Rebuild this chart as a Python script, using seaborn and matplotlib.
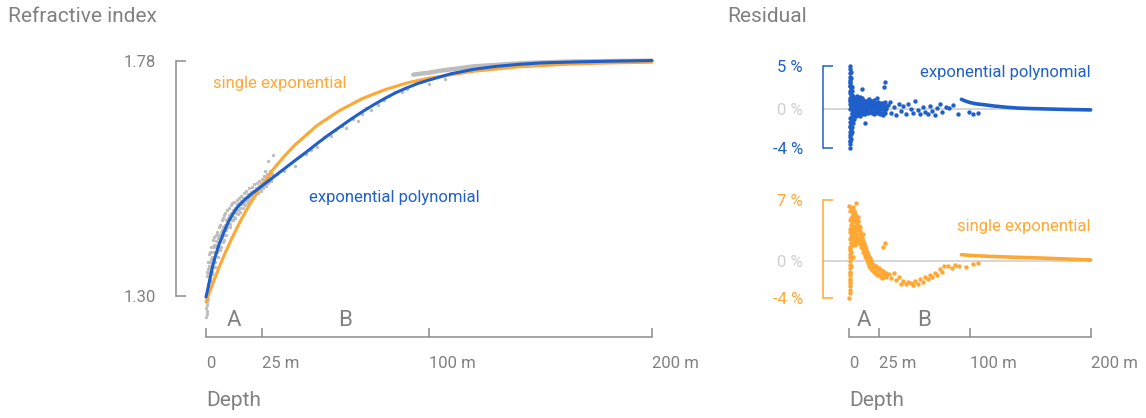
import numpy as np
import pandas as pd
import matplotlib
matplotlib.use("Agg")
import matplotlib.pyplot as plt
import matplotlib.transforms as mtrans
import seaborn as sns

# ---------------- data ----------------
# fitted curves, refractive index vs depth (m)
blue_depth = [0, 1, 2, 3, 4, 5, 6, 8, 10, 12, 14, 17, 20, 24, 28, 32, 36, 40, 45, 50,
              55, 60, 65, 70, 75, 80, 85, 90, 95, 100, 110, 120, 130, 140, 150, 165, 180, 200]
blue_n = [1.298, 1.318, 1.340, 1.361, 1.378, 1.393, 1.407, 1.430, 1.451, 1.467, 1.481, 1.495,
          1.507, 1.521, 1.535, 1.549, 1.563, 1.577, 1.594, 1.612, 1.629, 1.645, 1.661, 1.676,
          1.690, 1.703, 1.715, 1.725, 1.734, 1.741, 1.754, 1.763, 1.769, 1.773, 1.776, 1.778,
          1.7795, 1.781]
orange_depth = [0, 2, 4, 6, 8, 10, 13, 16, 20, 25, 30, 35, 40, 50, 60, 70, 80, 90, 100,
                120, 140, 160, 180, 200]
orange_n = [1.288, 1.313, 1.337, 1.360, 1.382, 1.402, 1.431, 1.458, 1.490, 1.526, 1.558,
            1.585, 1.609, 1.649, 1.679, 1.703, 1.721, 1.735, 1.745, 1.759, 1.768, 1.773,
            1.776, 1.7775]

# measured points (sparse, discrete samples)
gray_depth = [0.2, 0.3, 0.5, 0.2, 0.6, 0.4, 0.8, 0.3, 0.9, 0.5, 1.0, 0.7, 1.2, 0.6, 1.1, 0.8, 1.3,
              1.5, 1.6, 1.8, 1.7, 2.0, 2.2, 2.3, 2.1, 2.6, 2.8, 2.9, 3.0, 3.2, 3.4, 3.5, 3.7,
              3.9, 4.1, 4.3, 4.5, 4.8, 5.0, 5.2,
              5.5, 5.7, 6.0, 6.2, 6.5, 6.8, 7.0, 7.3, 7.6, 7.8, 8.2, 8.5, 8.8, 9.1, 9.4, 9.7, 10.0,
              10.4, 10.8, 11.2, 11.6, 12.0, 12.5, 13.0, 13.4, 13.8, 14.3, 14.8, 15.2, 15.7, 16.2,
              16.7, 17.2, 17.8, 18.3, 18.8, 19.4, 20.0,
              20.6, 21.2, 21.8, 22.4, 23.0, 23.6, 24.2, 24.8, 25.4, 26.0, 26.6, 27.2, 27.8, 28.4,
              29.0, 28.0, 30.0, 26.5, 29.5,
              0.5, 0.9, 1.2, 1.5, 1.9, 2.4, 2.7, 3.1, 3.6, 4.0, 4.4, 4.9, 5.3, 5.8, 6.3, 6.7,
              7.1, 7.5, 7.9, 8.3, 8.7, 9.2, 9.6, 10.2, 10.6, 11.0, 11.5, 12.1, 12.7, 13.2, 13.7,
              14.2, 14.7, 15.3, 15.9, 16.4, 17.0, 17.6, 18.1, 18.7, 19.3, 19.9, 20.5, 21.0,
              21.6, 22.1, 22.7, 23.3, 23.9, 24.5, 25.0, 25.6, 26.2, 26.8, 27.4, 28.0, 28.6, 29.2,
              32, 35, 38, 40, 42, 45, 47, 50, 53, 56, 58, 61, 63, 66, 68, 70, 72, 74, 77, 80,
              82, 85, 88, 90, 100, 107]
gray_n = [1.257, 1.263, 1.270, 1.276, 1.282, 1.288, 1.293, 1.300, 1.305, 1.312, 1.318, 1.325,
          1.332, 1.340, 1.348, 1.355, 1.362,
          1.310, 1.330, 1.350, 1.370, 1.335, 1.355, 1.375, 1.390, 1.345, 1.365, 1.380, 1.400,
          1.360, 1.375, 1.390, 1.405, 1.370, 1.385, 1.400, 1.412, 1.390, 1.405, 1.418,
          1.400, 1.410, 1.425, 1.395, 1.415, 1.430, 1.420, 1.435, 1.410, 1.440, 1.425, 1.445,
          1.435, 1.455, 1.440, 1.460, 1.450,
          1.465, 1.447, 1.470, 1.455, 1.475, 1.462, 1.480, 1.470, 1.488, 1.475, 1.490, 1.480,
          1.495, 1.487, 1.500, 1.490, 1.503, 1.495, 1.508, 1.500, 1.512,
          1.505, 1.515, 1.510, 1.520, 1.513, 1.525, 1.518, 1.530, 1.522, 1.535, 1.528, 1.540,
          1.533, 1.545, 1.538, 1.575, 1.588, 1.555, 1.550,
          1.350, 1.370, 1.385, 1.360, 1.390, 1.400, 1.350, 1.415, 1.420, 1.360, 1.425, 1.430,
          1.380, 1.440, 1.445, 1.400, 1.455, 1.460, 1.415, 1.465, 1.470, 1.425, 1.475, 1.480,
          1.440, 1.485, 1.490, 1.455, 1.492, 1.460, 1.497, 1.468, 1.500, 1.472, 1.505, 1.480,
          1.510, 1.485, 1.515, 1.490, 1.520, 1.495, 1.522, 1.500, 1.528, 1.506, 1.530, 1.510,
          1.534, 1.515, 1.540, 1.520, 1.545, 1.525, 1.550, 1.530, 1.555, 1.535,
          1.550, 1.556, 1.572, 1.566, 1.585, 1.590, 1.598, 1.605, 1.624, 1.627, 1.640, 1.648,
          1.643, 1.662, 1.658, 1.672, 1.684, 1.680, 1.690, 1.700, 1.708, 1.716, 1.717, 1.722,
          1.733, 1.743]
# continuous measurements below ~93 m
tail_depth = [93, 96, 100, 105, 110, 120, 130, 140, 150, 165, 180, 200]
tail_n = [1.752, 1.754, 1.756, 1.760, 1.763, 1.769, 1.772, 1.775, 1.777, 1.779, 1.7798, 1.7806]

# residuals of the exponential polynomial fit (%)
res_blue_depth = [0.5, 0.8, 0.6, 1.0, 0.7, 1.2, 0.9, 1.5, 0.6, 1.1, 1.8, 2.2, 2.5, 3.0, 1.4, 2.0,
                  0.5, 0.8, 0.6, 1.0, 1.3, 0.7, 1.6, 1.1, 2.0, 0.9, 2.4, 1.7, 2.8, 3.3, 2.2, 3.6,
                  4.5, 5.5, 1.4, 2.6,
                  1.5, 2, 2.5, 3, 3.5, 4, 4.5, 5, 5.5, 6, 6.5, 7, 7.5, 8, 8.5, 9, 9.5, 10, 10.5,
                  11, 11.5, 12, 12.5, 13, 13.5, 14, 14.5, 15, 15.5, 16, 3.2, 4.8, 6.8, 8.8, 10.8,
                  2.8, 5.2, 7.2, 9.2, 11.2, 13.2, 10.5, 13,
                  17, 18, 19, 20, 21, 22, 23, 24, 25, 26, 27, 28, 29, 30, 16.5, 18.5, 20.5, 22.5,
                  24.5, 26.5, 28.5, 19.5, 23.5, 27.5, 28.6, 29.8,
                  1.2, 1.7, 2.3, 2.7, 3.3, 3.8, 4.2, 4.7, 5.3, 5.8, 6.3, 6.8, 7.3, 7.8, 8.3, 8.8,
                  9.3, 9.8, 10.3, 10.8, 11.3, 11.8, 12.3, 12.8, 13.3, 13.8, 14.3, 14.8, 15.3,
                  15.8, 16.3, 16.8, 17.3, 17.8, 18.3, 18.8, 19.3, 19.8, 20.3, 20.8, 21.3, 21.8,
                  22.3, 22.8, 23.3, 23.8, 24.3, 24.8, 25.3, 25.8, 26.3, 26.8, 27.3, 27.8, 28.3,
                  28.8, 29.3, 29.8, 30.3, 30.8,
                  0.4, 0.9, 1.2, 0.5, 1.5, 1.9, 2.3, 3.1, 3.9, 0.4, 0.8, 0.5, 1.3, 1.0, 1.6, 2.4,
                  0.9, 0.6,
                  32, 34, 35, 37, 39, 41, 43, 45, 47, 49, 51, 53, 55, 57, 59, 61, 63, 65, 67, 69,
                  71, 73, 75, 77, 80, 83, 86, 90, 99, 103, 107]
res_blue = [4.8, 4.4, 4.0, 3.6, 3.2, 2.9, 2.5, 2.3, 2.0, 1.8, 1.6, 2.0, 1.5, 1.4, 3.4, 2.6,
            -4.3, -3.9, -3.5, -3.1, -2.8, -2.5, -2.2, -1.9, -1.7, -1.4, -1.3, -1.0, -0.9, -0.7,
            -2.6, -1.5, -1.1, -0.8, -3.3, -2.0,
            0.5, 0.2, 0.8, -0.2, 0.6, 1.0, 0.3, 0.7, -0.3, 0.9, 0.4, 0.1, 0.8, 0.5, -0.4, 0.6,
            1.1, 0.2, 0.7, -0.2, 0.4, 0.9, 0.1, 0.6, -0.3, 0.3, 0.8, 0.0, 0.5, -0.4, 1.3, 1.2,
            1.4, 1.3, 1.2, -0.5, -0.6, -0.7, -0.8, -0.6, -0.5, 2.2, -1.6,
            0.6, -0.3, 0.3, 0.9, -0.5, 0.2, 0.7, -0.2, 0.4, -0.6, 0.1, 0.5, -0.3, 0.8, 1.1, 0.0,
            1.0, 0.4, -0.1, 0.7, -0.7, 0.5, 1.2, 0.3, 2.4, 3.0,
            0.9, 0.3, 1.1, 0.0, 0.7, -0.1, 0.5, 1.0, 0.2, 0.8, -0.2, 0.6, 1.1, 0.3, 0.9, -0.1,
            0.5, 0.8, -0.3, 0.4, 1.0, 0.2, 0.7, -0.2, 0.9, 0.4, -0.1, 0.6, 1.0, 0.2, 0.7, -0.3,
            0.4, 0.9, 0.1, 0.6, -0.4, 0.3, 0.8, 0.0, 0.5, -0.2, 0.6, 0.2, -0.4, 0.4, 0.8, 0.0,
            0.3, -0.3, 0.6, 0.1, -0.5, 0.3, 0.7, -0.1, 0.4, -0.4, 0.2, 0.0,
            -2.0, -2.9, -3.6, -1.0, -1.6, -2.4, -0.4, -1.2, -0.6, 3.0, 1.2, 2.6, 4.1, 1.0, 1.2,
            2.4, 0.0, 0.6,
            0.4, 0.8, -0.4, 0.2, -0.7, 0.5, -0.2, 0.3, -0.5, 0.6, 0.0, -0.4, 0.9, -0.1, -0.6,
            0.2, -0.3, -0.5, 0.3, -0.2, -0.7, 0.1, 0.5, -0.3, 0.2, 0.1, 0.4, -0.5, -0.3, -0.5,
            -0.4]
res_blue_tail_depth = [93, 96, 100, 105, 110, 115, 120, 130, 140, 150, 165, 180, 200]
res_blue_tail = [1.07, 0.9, 0.72, 0.58, 0.5, 0.42, 0.33, 0.2, 0.1, 0.05, 0.0, -0.05, -0.1]

# residuals of the single exponential fit (%)
res_orange_depth = [0.3, 0.5, 0.4, 0.6, 0.5, 0.8, 0.6, 0.9, 0.7, 1.0, 0.8, 1.1, 0.9, 1.2, 1.0,
                    1.3, 1.1, 1.4,
                    1, 1.5, 2, 2.5, 3, 3.5, 4, 4.5, 5, 5.5, 6, 6.5, 7, 7.5, 8, 8.5, 9, 9.5, 10,
                    10.5, 11, 11.5, 12, 12.5, 13, 13.5, 14, 14.5, 15, 15.5, 16, 16.5, 17, 17.5,
                    18, 18.5, 19, 19.5, 20, 21, 22, 23, 24, 25, 26, 27, 28, 29, 30,
                    1.5, 2, 2.5, 3, 3.5, 4, 5, 6, 1.2, 2.2, 0.8, 3.2, 5.2, 7.2, 9.2, 11.2, 0.2,
                    5.8, 28.4, 29.8,
                    0.9, 1.3, 1.7, 2.1, 2.4, 2.8, 3.3, 3.7, 4.2, 4.6, 5.1, 5.6, 6.1, 6.6, 7.1,
                    7.6, 8.1, 8.6, 9.1, 9.6, 10.1, 10.6, 11.1, 11.6, 12.1, 12.6, 13.1, 13.6,
                    14.1, 14.6, 15.1, 15.6, 16.1, 16.6, 17.1, 17.6, 18.1, 18.6, 19.1, 19.6,
                    20.5, 21.5, 22.5, 23.5, 24.5, 25.5, 26.5, 27.5, 28.5, 29.5, 30.5, 31.0,
                    4.0, 3.0, 6.0, 1.5, 1.1, 0.6, 0.9, 2.0,
                    33, 35, 37, 39, 41, 43, 45, 47, 49, 51, 53, 55, 57, 59, 61, 63, 65, 67, 69,
                    71, 73, 75, 77, 79, 82, 85, 88, 91, 97, 103, 107]
res_orange = [-4.1, -3.6, -3.2, -2.8, -2.4, -2.0, -1.6, -1.2, -0.8, -0.4, 0.0, 0.4, 0.8, 1.2,
              1.6, 2.0, 2.4, 2.8,
              5.5, 4.8, 5.9, 4.2, 5.2, 3.6, 4.6, 5.6, 3.9, 4.8, 3.4, 4.2, 3.0, 3.8, 2.6, 3.4,
              2.2, 3.0, 1.9, 2.6, 1.5, 2.2, 1.2, 1.8, 0.8, 1.4, 0.5, 1.0, 0.2, 0.7, -0.1, 0.4,
              -0.4, 0.1, -0.6, -0.2, -0.8, -0.4, -1.0, -0.6, -1.2, -0.8, -1.4, -1.0, -1.6,
              -1.2, -1.8, -1.3, -1.5,
              2.0, 1.0, 3.0, 0.5, 2.0, 2.8, 1.8, 2.2, 3.5, 3.8, 4.5, 4.4, 5.2, 4.4, 3.8, 3.0,
              6.1, 6.4, 1.5, 2.0,
              3.2, 4.0, 2.6, 4.9, 1.8, 3.6, 2.4, 5.0, 3.2, 2.2, 4.4, 2.8, 3.8, 2.5, 4.9, 2.2,
              3.9, 2.0, 3.3, 1.6, 2.9, 1.4, 2.4, 1.0, 2.0, 0.9, 1.7, 0.5, 1.3, 0.2, 0.9, -0.2,
              0.6, -0.5, 0.3, -0.7, 0.0, -0.9, -0.3, -1.1,
              -0.4, -1.3, -0.6, -1.5, -0.8, -1.7, -1.0, -1.9, -1.1, -1.7, -1.3, -1.8,
              5.6, 6.0, 5.0, -0.5, -1.3, -2.2, 1.4, 0.3,
              -1.4, -1.9, -1.3, -2.1, -1.8, -2.5, -2.2, -2.6, -2.3, -2.4, -2.7, -2.2, -2.5,
              -2.0, -2.3, -1.8, -2.0, -1.5, -1.8, -1.3, -1.6, -0.9, -1.2, -0.6, -0.5, -0.8,
              -0.4, -0.6, -0.7, -0.3, -0.2]
res_orange_tail_depth = [93, 100, 110, 120, 135, 150, 165, 180, 200]
res_orange_tail = [0.7, 0.63, 0.56, 0.5, 0.43, 0.37, 0.3, 0.22, 0.12]

depth_ticks = [0, 25, 100, 200]
depth_labels = ["0", "25 m", "100 m", "200 m"]
n_ticks = [1.30, 1.78]
n_labels = ["1.30", "1.78"]
zone_names = ["A", "B"]
zone_centers = [12.5, 62.5]

# ---------------- style ----------------
sns.set_theme(style="white")
plt.rcParams["font.family"] = ["Roboto", "DejaVu Sans"]

BLUE = "#1f5fcc"
ORANGE = "#ffa733"
GRAYPT = "#bdbdbd"
TXT = "#808080"
AXC = "#8c8c8c"
ZERO = "#cfcfcf"

W, H = 1146, 418
fig = plt.figure(figsize=(W / 100, H / 100), dpi=100)


def axes_px(left, top, right, bottom):
    return fig.add_axes([left / W, 1 - bottom / H, (right - left) / W, (bottom - top) / H])


def px2pt(p):
    return p * 72 / 100


# ---------------- left panel ----------------
axL = axes_px(199.3, 56.1, 658.5, 320.5)
sns.scatterplot(x=gray_depth, y=gray_n, ax=axL, color=GRAYPT, s=6, linewidth=0, zorder=2)
sns.lineplot(x=tail_depth, y=tail_n, ax=axL, color=GRAYPT, lw=3.2, sort=False,
             estimator=None, zorder=2)
sns.lineplot(x=orange_depth, y=orange_n, ax=axL, color=ORANGE, lw=2.2, sort=False,
             estimator=None, zorder=3)
sns.lineplot(x=blue_depth, y=blue_n, ax=axL, color=BLUE, lw=2.2, sort=False,
             estimator=None, zorder=4)
axL.set_xlim(-3, 203)
axL.set_ylim(1.25, 1.79)

for sp in ["top", "right"]:
    axL.spines[sp].set_visible(False)
axL.spines["left"].set_position(("outward", px2pt(23.3)))
axL.spines["bottom"].set_position(("outward", px2pt(16.5)))
axL.spines["left"].set_bounds(n_ticks[0], n_ticks[-1])
axL.spines["bottom"].set_bounds(depth_ticks[0], depth_ticks[-1])
for sp in ["left", "bottom"]:
    axL.spines[sp].set_color(AXC)
    axL.spines[sp].set_linewidth(1.1)
axL.set_yticks(n_ticks)
axL.set_yticklabels(n_labels)
axL.set_xticks(depth_ticks)
axL.set_xticklabels(depth_labels)
axL.tick_params(axis="y", left=True, direction="in", length=7, width=1.1, color=AXC,
                pad=14.5, labelsize=12, labelcolor=TXT)
axL.tick_params(axis="x", bottom=True, direction="in", length=6.5, width=1.1, color=AXC,
                pad=14, labelsize=12, labelcolor=TXT)
for lbl in axL.get_xticklabels():
    lbl.set_ha("left")
axL.set_xlabel("")
axL.set_ylabel("")

axL.text(3.1, 1.735, "single exponential", color=ORANGE, fontsize=12, ha="left", va="center")
axL.text(46.2, 1.502, "exponential polynomial", color=BLUE, fontsize=12, ha="left",
         va="center")

# ---------------- right panels ----------------
axT = axes_px(845.4, 61.2, 1094.3, 151.4)
axB = axes_px(845.4, 195.2, 1094.3, 302.5)

for ax, color, dep, res, tdep, tres, lims, ticks, labels, name, ny in [
    (axT, BLUE, res_blue_depth, res_blue, res_blue_tail_depth, res_blue_tail,
     (-4.7, 5.3), [4.8, 0, -4.3], ["5 %", "0 %", "-4 %"], "exponential polynomial", 4.0),
    (axB, ORANGE, res_orange_depth, res_orange, res_orange_tail_depth, res_orange_tail,
     (-4.6, 7.3), [6.76, 0, -4.13], ["7 %", "0 %", "-4 %"], "single exponential", 3.8),
]:
    ax.plot([-21.5, 200], [0, 0], color=ZERO, lw=1.2, zorder=1, clip_on=False)
    sns.scatterplot(x=dep, y=res, ax=ax, color=color, s=10, linewidth=0, zorder=3)
    sns.lineplot(x=tdep, y=tres, ax=ax, color=color, lw=2.6, sort=False, estimator=None,
                 zorder=3)
    ax.set_xlim(-3, 203)
    ax.set_ylim(*lims)
    for sp in ["top", "right"]:
        ax.spines[sp].set_visible(False)
    ax.spines["left"].set_position(("outward", px2pt(22.4)))
    ax.spines["left"].set_bounds(ticks[-1], ticks[0])
    ax.spines["left"].set_color(color)
    ax.spines["left"].set_linewidth(1.1)
    ax.set_yticks(ticks)
    ax.set_yticklabels(labels)
    ax.tick_params(axis="y", left=True, direction="in", length=7, width=1.1, color=color,
                   pad=14.5, labelsize=12)
    for i, lbl in enumerate(ax.get_yticklabels()):
        lbl.set_color(ZERO if i == 1 else color)
    ax.yaxis.get_major_ticks()[1].tick1line.set_visible(False)
    ax.text(200, ny, name, color=color, fontsize=12, ha="right", va="center")
    ax.set_xlabel("")
    ax.set_ylabel("")

axT.spines["bottom"].set_visible(False)
axT.set_xticks([])
axB.spines["bottom"].set_position(("outward", px2pt(34.5)))
axB.spines["bottom"].set_bounds(depth_ticks[0], depth_ticks[-1])
axB.spines["bottom"].set_color(AXC)
axB.spines["bottom"].set_linewidth(1.1)
axB.set_xticks(depth_ticks)
axB.set_xticklabels(depth_labels)
axB.tick_params(axis="x", bottom=True, direction="in", length=6.5, width=1.1, color=AXC,
                pad=14, labelsize=12, labelcolor=TXT)
for lbl in axB.get_xticklabels():
    lbl.set_ha("left")

# ---------------- texts ----------------
for ax in (axL, axB):
    tr = mtrans.blended_transform_factory(ax.transData, fig.transFigure)
    for name, c in zip(zone_names, zone_centers):
        ax.text(c, 1 - 320 / H, name, transform=tr, color=TXT, fontsize=16, ha="center",
                va="center")
    ax.text(0, 1 - 400 / H, "Depth", transform=tr, color=TXT, fontsize=15, ha="left",
            va="center")

fig.text(8 / W, 1 - 17 / H, "Refractive index", color=TXT, fontsize=15, ha="left",
         va="center")
fig.text(727 / W, 1 - 17 / H, "Residual", color=TXT, fontsize=15, ha="left", va="center")

fig.savefig("out.png", dpi=100)
